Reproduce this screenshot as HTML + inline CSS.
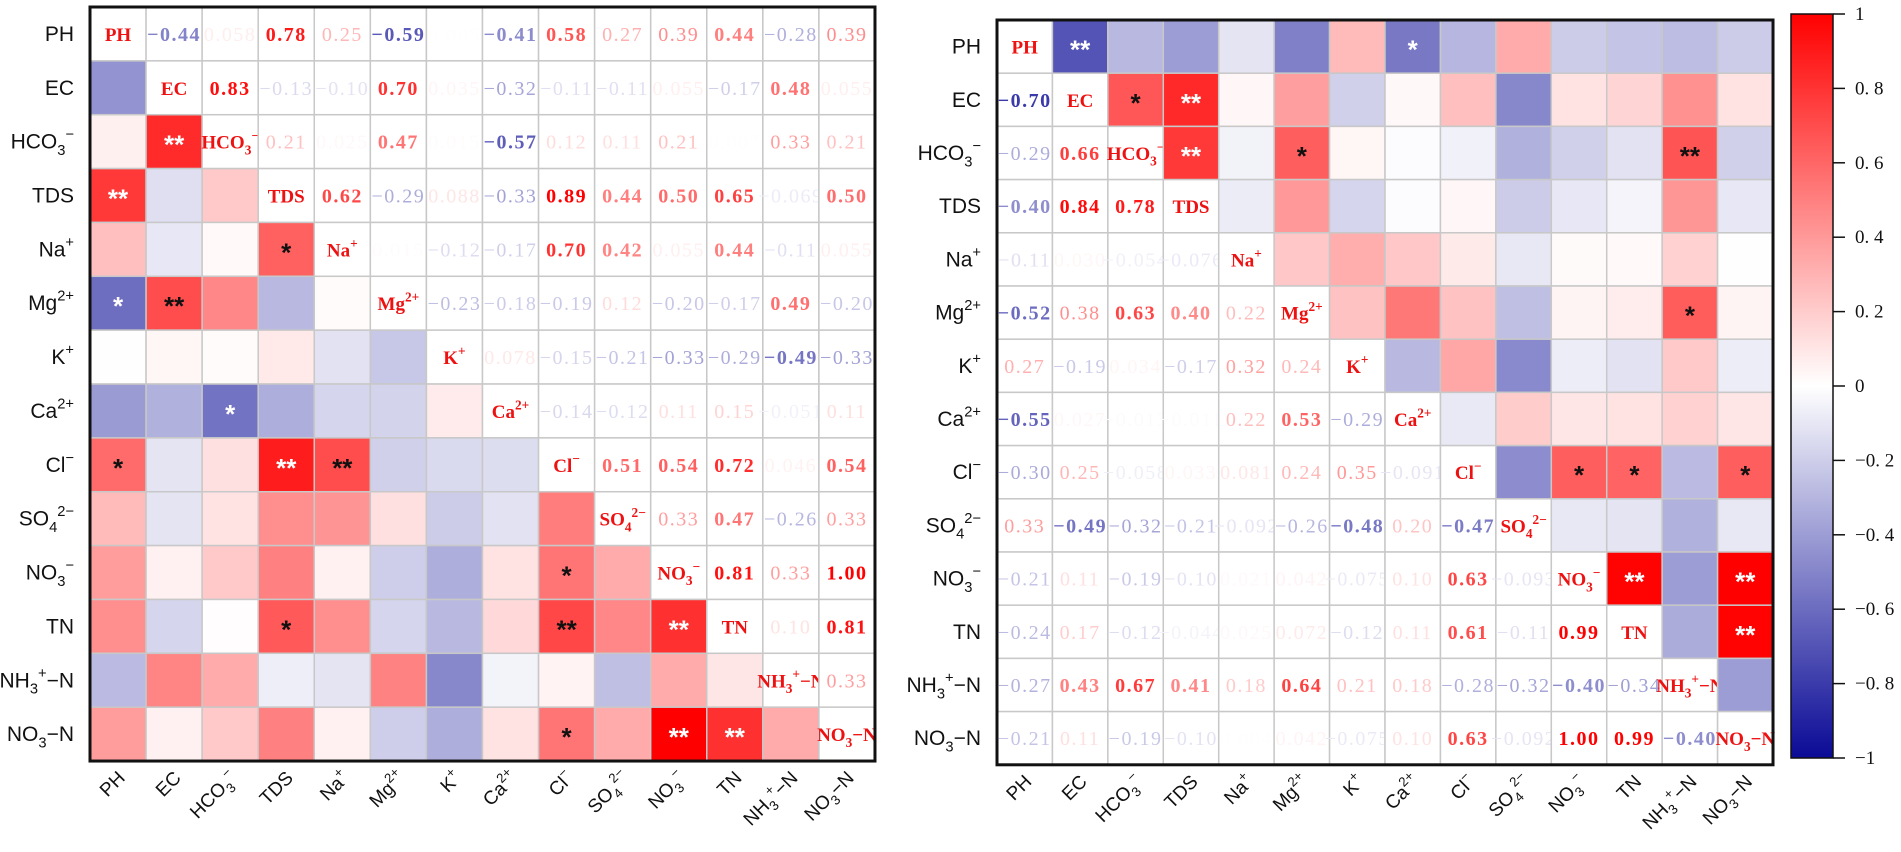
<!DOCTYPE html>
<html><head><meta charset="utf-8"><style>
html,body{margin:0;padding:0;background:#fff;width:1901px;height:852px;overflow:hidden}
svg{display:block}
</style></head><body>
<svg id="chart" width="1901" height="852" xmlns="http://www.w3.org/2000/svg">
<defs>
<linearGradient id="cbgrad" x1="0" y1="0" x2="0" y2="1">
<stop offset="0" stop-color="rgb(255,0,0)"/>
<stop offset="0.5" stop-color="rgb(255,255,255)"/>
<stop offset="1" stop-color="rgb(10,10,150)"/>
</linearGradient>
</defs>
<g id="left"></g>
<g id="right"></g>
<g id="cbar"></g>
</svg>
<script>
// ---- data ----
const varLabels = [
 [["PH",""]],[["EC",""]],[["HCO",""],["3","sub"],["−","sup"]],[["TDS",""]],
 [["Na",""],["+","sup"]],[["Mg",""],["2+","sup"]],[["K",""],["+","sup"]],[["Ca",""],["2+","sup"]],
 [["Cl",""],["−","sup"]],[["SO",""],["4","sub"],["2−","sup"]],[["NO",""],["3","sub"],["−","sup"]],
 [["TN",""]],[["NH",""],["3","sub"],["+","sup"],["−N",""]],[["NO",""],["3","sub"],["−N",""]]
];
// left matrix: upper triangle rows (j > i)
const leftUpper = [
 [-0.44,0.058,0.78,0.25,-0.59,0.005,-0.41,0.58,0.27,0.39,0.44,-0.28,0.39],
 [0.83,-0.13,-0.10,0.70,0.035,-0.32,-0.11,-0.11,0.055,-0.17,0.48,0.055],
 [0.21,0.025,0.47,0.015,-0.57,0.12,0.11,0.21,0.007,0.33,0.21],
 [0.62,-0.29,0.088,-0.33,0.89,0.44,0.50,0.65,-0.069,0.50],
 [0.015,-0.12,-0.17,0.70,0.42,0.055,0.44,-0.11,0.055],
 [-0.23,-0.18,-0.19,0.12,-0.20,-0.17,0.49,-0.20],
 [0.078,-0.15,-0.21,-0.33,-0.29,-0.49,-0.33],
 [-0.14,-0.12,0.11,0.15,-0.051,0.11],
 [0.51,0.54,0.72,0.046,0.54],
 [0.33,0.47,-0.26,0.33],
 [0.81,0.33,1.00],
 [0.10,0.81],
 [0.33]
];
// left significance marks in lower triangle [row, col, mark]
const leftStars = [
 [2,1,"**"],[3,0,"**"],[4,3,"*"],[5,0,"*"],[5,1,"**"],[7,2,"*"],[8,0,"*"],[8,3,"**"],[8,4,"**"],
 [10,8,"*"],[11,3,"*"],[11,8,"**"],[11,10,"**"],[13,8,"*"],[13,10,"**"],[13,11,"**"]
];
// right matrix: lower triangle rows (j < i), starting at row 1
const rightLower = [
 [-0.70],
 [-0.29,0.66],
 [-0.40,0.84,0.78],
 [-0.11,0.030,-0.054,-0.076],
 [-0.52,0.38,0.63,0.40,0.22],
 [0.27,-0.19,0.034,-0.17,0.32,0.24],
 [-0.55,0.027,-0.013,-0.011,0.22,0.53,-0.29],
 [-0.30,0.25,-0.058,0.033,0.081,0.24,0.35,-0.091],
 [0.33,-0.49,-0.32,-0.21,-0.092,-0.26,-0.48,0.20,-0.47],
 [-0.21,0.11,-0.19,-0.10,0.021,0.042,-0.075,0.10,0.63,-0.093],
 [-0.24,0.17,-0.12,-0.044,0.025,0.072,-0.12,0.11,0.61,-0.11,0.99],
 [-0.27,0.43,0.67,0.41,0.18,0.64,0.21,0.18,-0.28,-0.32,-0.40,-0.34],
 [-0.21,0.11,-0.19,-0.10,0.004,0.042,-0.075,0.10,0.63,-0.092,1.00,0.99,-0.40]
];
// right significance marks in upper triangle [row, col, mark]
const rightStars = [
 [0,1,"**"],[0,7,"*"],[1,2,"*"],[1,3,"**"],[2,3,"**"],[2,5,"*"],[2,12,"**"],[5,12,"*"],
 [8,10,"*"],[8,11,"*"],[8,13,"*"],[10,11,"**"],[10,13,"**"],[11,13,"**"]
];
const cbTicks = [1,0.8,0.6,0.4,0.2,0,-0.2,-0.4,-0.6,-0.8,-1];

// ---- helpers ----
const NS="http://www.w3.org/2000/svg";
function mk(tag,attrs,parent){const e=document.createElementNS(NS,tag);for(const k in attrs)e.setAttribute(k,attrs[k]);if(parent)parent.appendChild(e);return e;}
function color(v){
  v=Math.max(-1,Math.min(1,v));
  if(v>=0){const g=Math.round(255*(1-v));return `rgb(255,${g},${g})`;}
  const t=-v;const r=Math.round(255-(245)*t),b=Math.round(255-105*t);return `rgb(${r},${r},${b})`;
}
function fmt(v){
  const a=Math.abs(v);let s=a<0.1&&a>0?a.toFixed(3):a.toFixed(2);
  return (v<0?"−":"")+s;
}
function richText(t,parts,size){
  let off=0;
  parts.forEach(p=>{
    const ts=mk("tspan",{},t);
    let target=0,fs=size;
    if(p[1]==="sub"){target=size*0.3;fs=size*0.7;}
    else if(p[1]==="sup"){target=-size*0.45;fs=size*0.7;}
    ts.setAttribute("dy",(target-off).toFixed(1));
    ts.setAttribute("font-size",fs.toFixed(1));
    off=target;
    ts.textContent=p[0];
  });
}
function buildMatrix(n,rows,upper){
  const M=[];for(let i=0;i<n;i++){M.push(new Array(n).fill(1));}
  if(upper){rows.forEach((r,i)=>r.forEach((v,k)=>{const j=i+1+k;M[i][j]=v;M[j][i]=v;}));}
  else{rows.forEach((r,ii)=>{const i=ii+1;r.forEach((v,j)=>{M[i][j]=v;M[j][i]=v;});});}
  return M;
}

function drawPanel(g,cfg){
  const n=varLabels.length;
  const M=buildMatrix(n,cfg.rows,cfg.upperNumbers);
  const xs=i=>cfg.x0+i*cfg.cw, ys=i=>cfg.y0+i*cfg.ch;
  const starMap={};cfg.stars.forEach(s=>starMap[s[0]+","+s[1]]=s[2]);
  for(let i=0;i<n;i++)for(let j=0;j<n;j++){
    const v=M[i][j];
    const isNum = cfg.upperNumbers ? j>i : j<i;
    const cx=xs(j)+cfg.cw/2, cy=ys(i)+cfg.ch/2;
    if(i===j){
      const r=mk("rect",{x:xs(j),y:ys(i),width:cfg.cw,height:cfg.ch,fill:"#fff",stroke:"#c8c8c8","stroke-width":1.5},g);
      
      
      const t=mk("text",{x:cx,y:cy+7,"text-anchor":"middle","font-family":"Liberation Serif, serif","font-weight":"bold",fill:"#ee1111"},g);
      
      
      richText(t,varLabels[i],19);
    } else if(isNum){
      const r=mk("rect",{x:xs(j),y:ys(i),width:cfg.cw,height:cfg.ch,fill:"#fff",stroke:"#c8c8c8","stroke-width":1.5},g);
      
      
      const t=mk("text",{x:cx,y:cy+7,"text-anchor":"middle","font-family":"Liberation Serif, serif","font-size":20,"letter-spacing":1.5,"font-weight":Math.abs(v)>=0.4?"bold":"normal",fill:color(v*1.15)},g);
      
      
      t.textContent=fmt(v);
    } else {
      const r=mk("rect",{x:xs(j),y:ys(i),width:cfg.cw,height:cfg.ch,fill:color(v),stroke:"#c8c8c8","stroke-width":1.5},g);
      
      
      const s=starMap[i+","+j];
      if(s){
        const white = v>0.75 || v<-0.5;
        const t=mk("text",{x:cx,y:cy+12,"text-anchor":"middle","font-family":"Liberation Sans, sans-serif","font-size":26,"font-weight":"bold",fill:white?"#fff":"#111"},g);
        
        
        t.textContent=s;
      }
    }
  }
  const b=mk("rect",{x:cfg.x0,y:cfg.y0,width:cfg.cw*n,height:cfg.ch*n,fill:"none",stroke:"#111","stroke-width":3},g);
  
  
  for(let i=0;i<n;i++){
    const t=mk("text",{x:cfg.x0-16,y:ys(i)+cfg.ch/2+7,"text-anchor":"end","font-family":"Liberation Sans, sans-serif",fill:"#111"},g);
    
    
    richText(t,varLabels[i],21);
    const ax=xs(i)+cfg.cw/2+8, ay=cfg.y0+cfg.ch*n+18;
    const tx=mk("text",{x:ax,y:ay,"text-anchor":"end","font-family":"Liberation Sans, sans-serif",fill:"#111",transform:`rotate(-45 ${ax} ${ay})`},g);
    
    
    richText(tx,varLabels[i],19);
  }
}

drawPanel(document.getElementById("left"),{x0:90,y0:7,cw:56.07,ch:53.86,rows:leftUpper,upperNumbers:true,stars:leftStars});
drawPanel(document.getElementById("right"),{x0:997,y0:20,cw:55.43,ch:53.2,rows:rightLower,upperNumbers:false,stars:rightStars});

// colorbar
const cb=document.getElementById("cbar");
const cbX=1791,cbW=42,cbTop=14,cbBot=758;
const cbY=v=>cbTop+(1-v)/2*(cbBot-cbTop);
const cr=mk("rect",{x:cbX,y:cbTop,width:cbW,height:cbBot-cbTop,fill:"url(#cbgrad)",stroke:"#111","stroke-width":1.5},cb);


cbTicks.forEach(v=>{
  const y=cbY(v);
  const l=mk("line",{x1:cbX+cbW,x2:cbX+cbW+12,y1:y,y2:y,stroke:"#111","stroke-width":1.5},cb);
  
  
  const t=mk("text",{x:1855,y:y+6,"font-family":"Liberation Serif, serif","font-size":19,fill:"#111"},cb);
  
  
  t.textContent=(v===0||Math.abs(v)===1)?(v<0?"−1":String(v)):(v<0?"−":"")+"0. "+String(Math.abs(v)).slice(2);
});
</script>
</body></html>
